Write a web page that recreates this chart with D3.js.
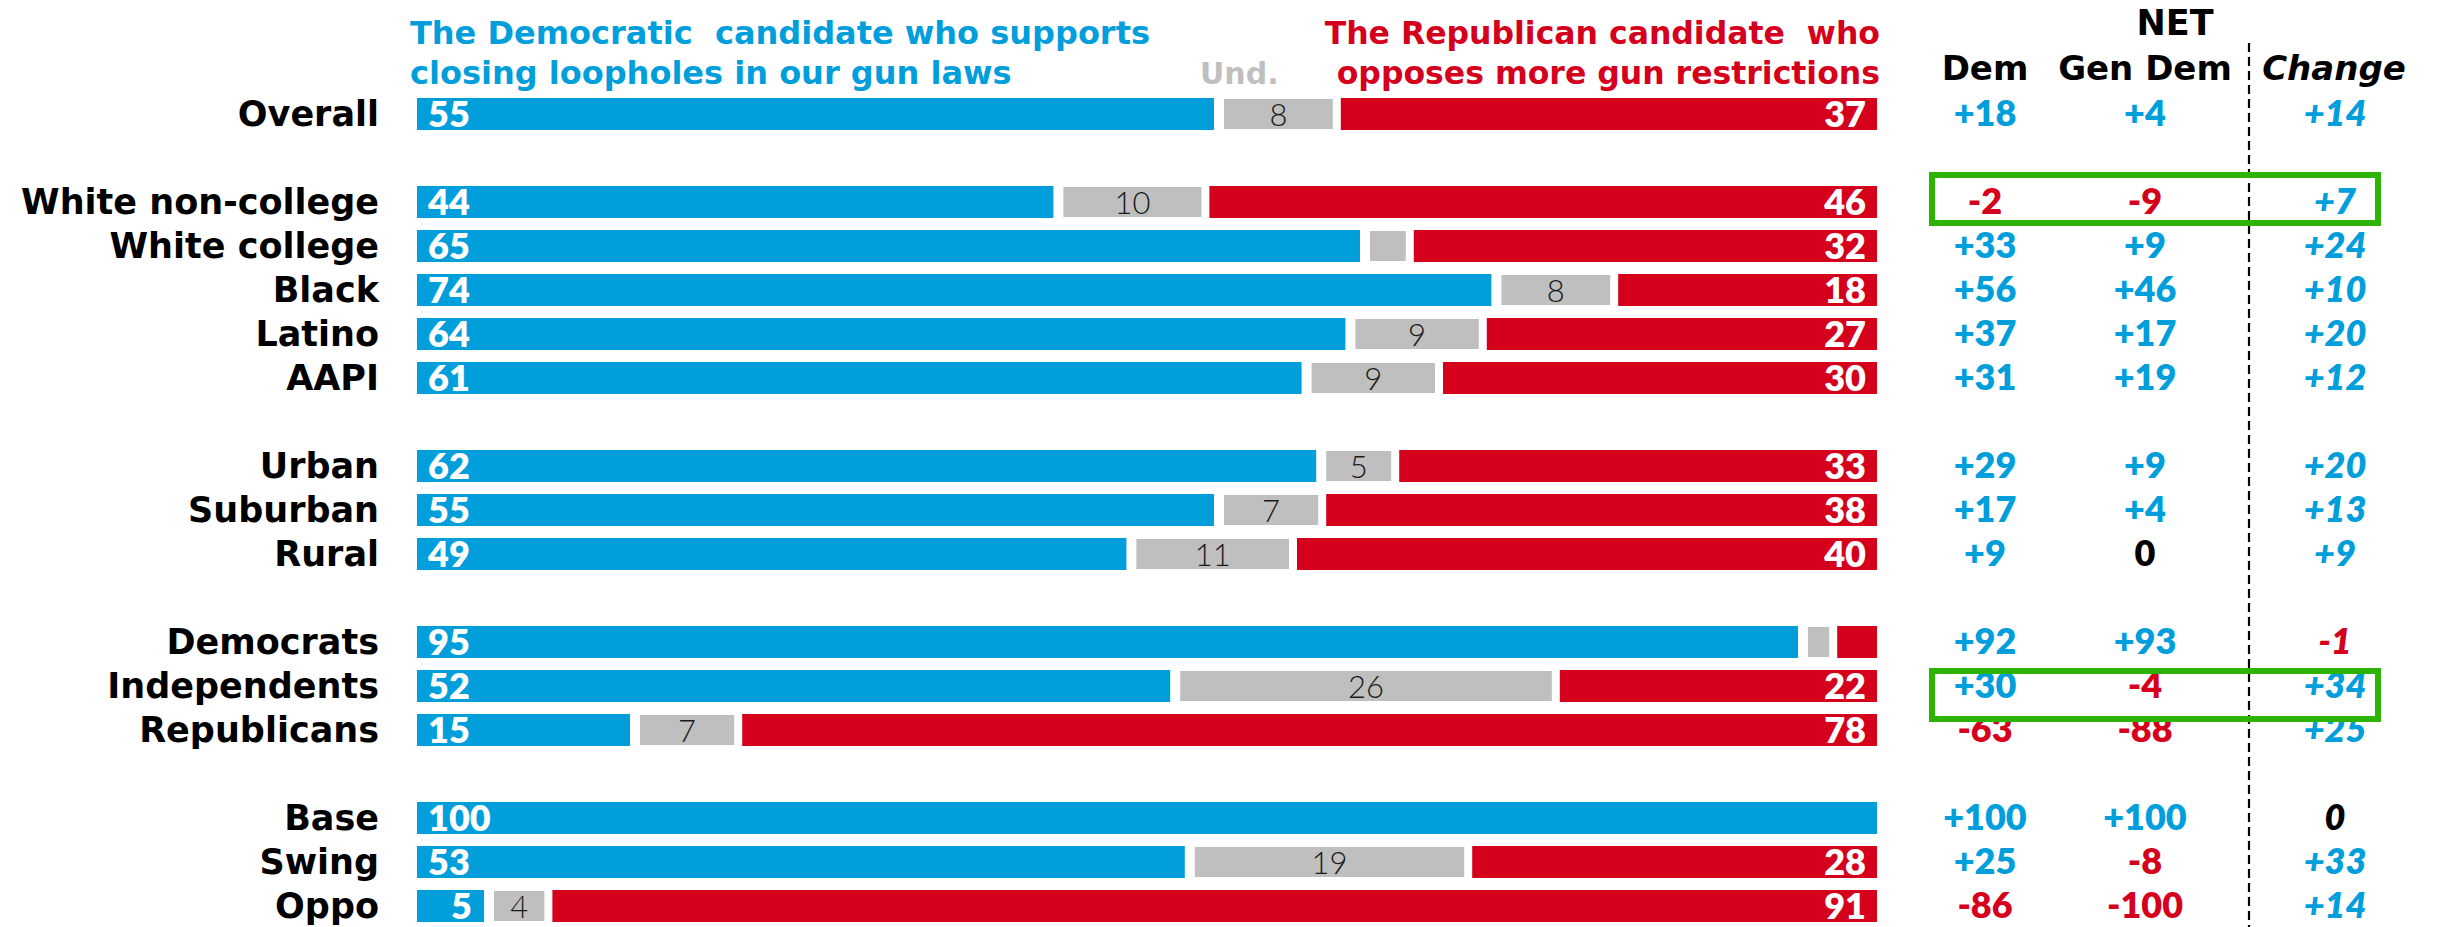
<!DOCTYPE html>
<html><head><meta charset="utf-8">
<script src="https://cdn.jsdelivr.net/npm/d3@7"></script>
<style>html,body{margin:0;padding:0;background:#fff;} svg{display:block}</style>
</head><body>
<script>
// ---------- data ----------
const categories = ["Overall","White non-college","White college","Black","Latino","AAPI","Urban","Suburban","Rural","Democrats","Independents","Republicans","Base","Swing","Oppo"];
const groups     = [0,1,1,1,1,1,2,2,2,3,3,3,4,4,4];
const demValues  = [55,44,65,74,64,61,62,55,49,95,52,15,100,53,5];
const undValues  = [8,10,3,8,9,9,5,7,11,2,26,7,0,19,4];
const repValues  = [37,46,32,18,27,30,33,38,40,3,22,78,0,28,91];
const netDem     = [18,-2,33,56,37,31,29,17,9,92,30,-63,100,25,-86];
const netGenDem  = [4,-9,9,46,17,19,9,4,0,93,-4,-88,100,-8,-100];
const netChange  = [14,7,24,10,20,12,20,13,9,-1,34,25,0,33,14];
const highlighted = ["White non-college","Independents"];
const demHeader = ["The Democratic  candidate who supports","closing loopholes in our gun laws"];
const repHeader = ["The Republican candidate  who","opposes more gun restrictions"];
const undHeader = "Und.";
const netHeader = "NET";
const columnHeaders = ["Dem","Gen Dem","Change"];

// ---------- style ----------
const W = 2440, H = 927;
const BLUE = "#009edb", RED = "#d5001c", GRAY = "#bfbfbf", GREEN = "#2db400";
const WIDE = "'DejaVu Sans', sans-serif";
const NUM = "Lato, 'Noto Sans', sans-serif";

const svg = d3.select("body").append("svg").attr("width", W).attr("height", H);

const rows = categories.map((c, i) => ({
  cat: c, slot: i + groups[i], dem: demValues[i], und: undValues[i], rep: repValues[i],
  net: [netDem[i], netGenDem[i], netChange[i]]
}));

const x = d3.scaleLinear().domain([0, 100]).range([417, 1877]);
const maxSlot = d3.max(rows, d => d.slot);
const y = d3.scaleLinear().domain([0, maxSlot]).range([98, 890]);
const barH = 32;
const cy = d => y(d.slot) + barH / 2;
const colPos = {"Dem": 1985, "Gen Dem": 2145, "Change": 2335};

// ---------- bars ----------
const row = svg.append("g").selectAll("g.row").data(rows).join("g").attr("class", "row");

row.append("rect").attr("fill", BLUE)
  .attr("x", x(0)).attr("y", d => y(d.slot))
  .attr("width", d => d.dem >= 100 ? x(100) - x(0) : Math.max(0, x(d.dem) - 6 - x(0)))
  .attr("height", barH);

row.filter(d => d.und > 0).append("rect").attr("fill", GRAY)
  .attr("x", d => x(d.dem) + 4).attr("y", d => y(d.slot) + 1)
  .attr("width", d => Math.max(0, x(d.dem + d.und) - 4 - (x(d.dem) + 4)))
  .attr("height", barH - 2);

row.filter(d => d.rep > 0).append("rect").attr("fill", RED)
  .attr("x", d => x(d.dem + d.und) + 4).attr("y", d => y(d.slot))
  .attr("width", d => x(100) - (x(d.dem + d.und) + 4))
  .attr("height", barH);

// bar labels
const narrow = d => x(d.dem) - x(0) < 90;
row.append("text")
  .attr("x", d => narrow(d) ? x(d.dem) - 18 : x(0) + 11)
  .attr("text-anchor", d => narrow(d) ? "end" : "start")
  .attr("y", d => cy(d) + 13)
  .attr("fill", "#fff").attr("font-family", NUM).attr("font-weight", 800).attr("font-size", 36)
  .text(d => d.dem);

row.filter(d => d.und >= 4).append("text")
  .attr("x", d => (x(d.dem) + x(d.dem + d.und)) / 2)
  .attr("text-anchor", "middle")
  .attr("y", d => cy(d) + 12)
  .attr("fill", "#1a1a1a").attr("font-family", NUM).attr("font-weight", 300).attr("font-size", 31)
  .text(d => d.und);

row.filter(d => d.rep >= 5).append("text")
  .attr("x", x(100) - 11).attr("text-anchor", "end")
  .attr("y", d => cy(d) + 13)
  .attr("fill", "#fff").attr("font-family", NUM).attr("font-weight", 800).attr("font-size", 36)
  .text(d => d.rep);

// row labels
row.append("text")
  .attr("x", 379).attr("text-anchor", "end")
  .attr("y", d => cy(d) + 12)
  .attr("fill", "#000").attr("font-family", WIDE).attr("font-weight", 700).attr("font-size", 35)
  .text(d => d.cat);

// ---------- headers ----------
svg.append("g").selectAll("text").data(demHeader).join("text")
  .attr("x", 410).attr("y", (d, i) => 43.5 + i * 40)
  .attr("fill", BLUE).attr("font-family", WIDE).attr("font-weight", 700).attr("font-size", 32)
  .style("white-space", "pre")
  .text(d => d);

svg.append("g").selectAll("text").data(repHeader).join("text")
  .attr("x", 1880).attr("y", (d, i) => 43.5 + i * 40).attr("text-anchor", "end")
  .attr("fill", RED).attr("font-family", WIDE).attr("font-weight", 700).attr("font-size", 31.5)
  .style("white-space", "pre")
  .text(d => d);

svg.append("text").attr("x", 1200).attr("y", 83.5)
  .attr("fill", GRAY).attr("font-family", WIDE).attr("font-weight", 700).attr("font-size", 30)
  .text(undHeader);

svg.append("text").attr("x", 2175).attr("y", 35).attr("text-anchor", "middle")
  .attr("fill", "#000").attr("font-family", WIDE).attr("font-weight", 700).attr("font-size", 35)
  .text(netHeader);

svg.append("g").selectAll("text").data(columnHeaders).join("text")
  .attr("x", d => d === "Change" ? 2334 : colPos[d]).attr("y", 80).attr("text-anchor", "middle")
  .attr("fill", "#000").attr("font-family", WIDE).attr("font-weight", 700).attr("font-size", 34)
  .attr("font-style", d => d === "Change" ? "italic" : "normal")
  .text(d => d);

// dashed divider
svg.append("line").attr("x1", 2249).attr("x2", 2249).attr("y1", 43).attr("y2", H)
  .attr("stroke", "#000").attr("stroke-width", 2.2).attr("stroke-dasharray", "9,5");

// ---------- NET columns ----------
const fmt = v => v > 0 ? "+" + v : (v < 0 ? "-" + Math.abs(v) : "0");
const col = v => v > 0 ? BLUE : (v < 0 ? RED : "#000");
row.selectAll("text.net").data(d => d.net.map((v, j) => ({v, j, d}))).join("text")
  .attr("class", "net")
  .attr("x", e => colPos[columnHeaders[e.j]]).attr("text-anchor", "middle")
  .attr("y", e => cy(e.d) + 12)
  .attr("fill", e => col(e.v)).attr("font-family", NUM).attr("font-weight", 800).attr("font-size", 36)
  .attr("font-style", e => e.j === 2 ? "italic" : "normal")
  .text(e => fmt(e.v));

// ---------- highlight boxes ----------
const boxOffsets = {"White non-college": [-27, 21], "Independents": [-15, 33]};
svg.append("g").selectAll("rect").data(rows.filter(d => highlighted.includes(d.cat))).join("rect")
  .attr("x", 1932).attr("width", 446)
  .attr("y", d => cy(d) + boxOffsets[d.cat][0])
  .attr("height", d => boxOffsets[d.cat][1] - boxOffsets[d.cat][0])
  .attr("fill", "none").attr("stroke", GREEN).attr("stroke-width", 6);
</script>
</body></html>
